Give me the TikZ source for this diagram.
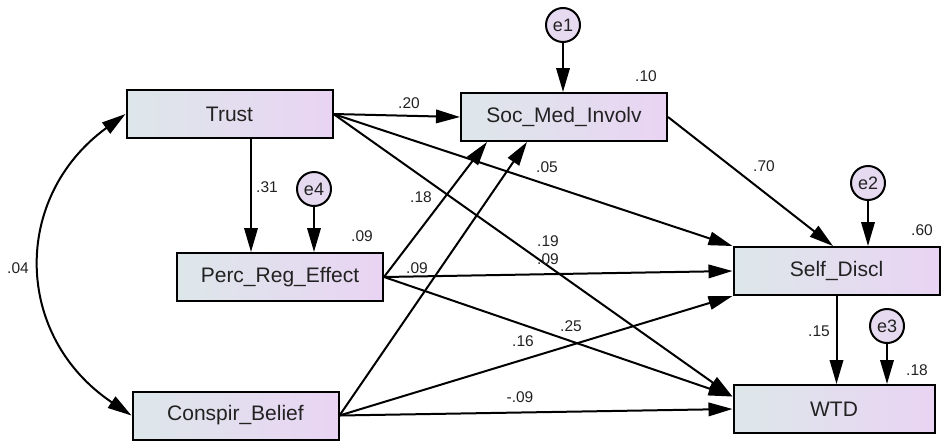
\documentclass[tikz,border=0pt]{standalone}
\usepackage{fontspec}
\setmainfont{Liberation Sans}
\usepackage{tikz}
\usetikzlibrary{arrows.meta, calc}
\definecolor{boxL}{RGB}{221,231,234}
\definecolor{boxR}{RGB}{233,212,243}
\definecolor{errF}{RGB}{230,218,240}
\definecolor{ink}{RGB}{34,34,34}

\begin{document}
\begin{tikzpicture}[x=1pt, y=-1pt, >={Triangle[length=24pt,width=13.5pt]}, line width=2pt,
        var/.style={draw, left color=boxL, right color=boxR, minimum width=206pt, minimum height=48pt,
            inner sep=0pt, text=ink, font=\fontsize{21}{24}\selectfont},
        err/.style={draw, circle, fill=errF, minimum size=34pt, inner sep=0pt, text=ink,
            font=\fontsize{18}{20}\selectfont},
        coef/.style={text=ink, inner sep=0pt, font=\fontsize{15.5}{18}\selectfont}]
    \useasboundingbox (0,0) rectangle (941,442);

    % observed variables
    \node[var] (Trust) at (229.5, 114) {Trust};
    \node[var] (Soc) at (564, 117) {Soc\_Med\_Involv};
    \node[var] (Perc) at (280, 277) {Perc\_Reg\_Effect};
    \node[var] (Consp) at (235.5, 415.5) {Conspir\_Belief};
    \node[var] (Self) at (836.5, 271) {Self\_Discl};
    \node[var, minimum width=201pt] (WTD) at (834, 409) {WTD};

    % error terms
    \node[err] (e1) at (563, 25) {e1};
    \node[err] (e2) at (868, 183) {e2};
    \node[err] (e3) at (887, 326) {e3};
    \node[err] (e4) at (314, 189) {e4};

    \draw[->] (e1) -- (e1 |- Soc.north);
    \draw[->] (e2) -- (e2 |- Self.north);
    \draw[->] (e3) -- (e3 |- WTD.north);
    \draw[->] (e4) -- (e4 |- Perc.north);

    % paths
    \draw[<->] (Trust.west) to[bend right=55, looseness=1.2] (Consp.west);
    \draw[->] (Trust.east) -- (Soc.west);
    \draw[->] ([xshift=21.5pt]Trust.south) -- ([xshift=21.5pt]Trust.south |- Perc.north);
    \draw[->] (Trust.east) -- (Self.north west);
    \draw[->] (Trust.east) -- (WTD.173);
    \draw[->] (Perc.east) -- ([xshift=-77pt]Soc.south);
    \draw[->] (Perc.east) -- (Self.west);
    \draw[->] (Perc.east) -- (WTD.173);
    \draw[->] (Consp.east) -- ([xshift=-37pt]Soc.south);
    \draw[->] (Consp.east) -- (Self.south west);
    \draw[->] (Consp.east) -- (WTD.west);
    \draw[->] (Soc.east) -- ([xshift=-3.5pt]Self.north);
    \draw[->] (Self.south) -- (Self.south |- WTD.north);

    % coefficients
    \node[coef] (cTC) at (18, 268) {.04};
    \node[coef] (cTS) at (409, 103) {.20};
    \node[coef] (cTP) at (267, 187) {.31};
    \node[coef] (cTD) at (547, 167) {.05};
    \node[coef] (cTW) at (548, 241) {.19};
    \node[coef] (cCS) at (548, 259) {.09};
    \node[coef] (cPS) at (421, 197) {.18};
    \node[coef] (cPD) at (417, 268) {.09};
    \node[coef] (cPW) at (571, 326) {.25};
    \node[coef] (cCD) at (523, 341) {.16};
    \node[coef] (cCW) at (520, 397) {-.09};
    \node[coef] (cSD) at (764, 166) {.70};
    \node[coef] (cDW) at (819, 331) {.15};

    % squared multiple correlations
    \node[coef] (rSoc) at (646, 76) {.10};
    \node[coef] (rPerc) at (362, 236) {.09};
    \node[coef] (rSelf) at (922, 230) {.60};
    \node[coef] (rWTD) at (917, 370) {.18};
\end{tikzpicture}
\end{document}
